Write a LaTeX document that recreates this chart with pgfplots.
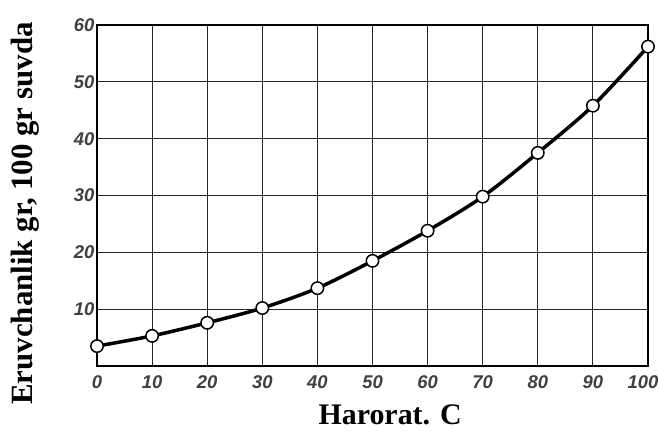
\documentclass[border=0pt]{standalone}
\usepackage{fontspec}
\setmainfont{Liberation Serif}
\newfontfamily\tickfont{Liberation Sans}
\usepackage{pgfplots}
\pgfplotsset{compat=1.18}
\begin{document}
\begin{tikzpicture}
\path[use as bounding box] (0,0) rectangle (659bp,436bp);
\begin{axis}[
  at={(97bp,70bp)}, anchor=south west,
  scale only axis, width=551bp, height=341bp,
  xmin=0, xmax=100, ymin=0, ymax=60,
  xtick={0,10,...,100}, ytick={10,20,...,60},
  xticklabels={0,10,20,30,40,50,60,70,80,90,{\kern-10bp 100}},
  grid=major,
  major grid style={black!85, line width=1.1bp},
  axis line style={black, line width=1.3bp},
  major tick length=0pt,
  /pgf/number format/assume math mode=true,
  tick label style={font=\tickfont\bfseries\itshape\fontsize{18.5}{19}\selectfont, text=black!75},
  xticklabel style={yshift=-6bp},
  yticklabel style={xshift=1bp},
  xlabel={Harorat. C},
  ylabel={Eruvchanlik gr, 100 gr suvda},
  label style={font=\bfseries\fontsize{31}{32}\selectfont},
  xlabel style={font=\bfseries\fontsize{30}{31}\selectfont, at={(axis description cs:0.532,-0.144)}, anchor=center},
  ylabel style={at={(axis description cs:-0.131,0.447)}, anchor=center},
]
\addplot[black, line width=3.5bp, smooth, mark=*, mark size=6.2bp,
  mark options={fill=white, draw=black, line width=1.5bp}]
coordinates {
(0,3.5) (10,5.3) (20,7.6) (30,10.2) (40,13.7) (50,18.5)
(60,23.8) (70,29.8) (80,37.5) (90,45.8) (100,56.2)
};
\end{axis}
\end{tikzpicture}
\end{document}
